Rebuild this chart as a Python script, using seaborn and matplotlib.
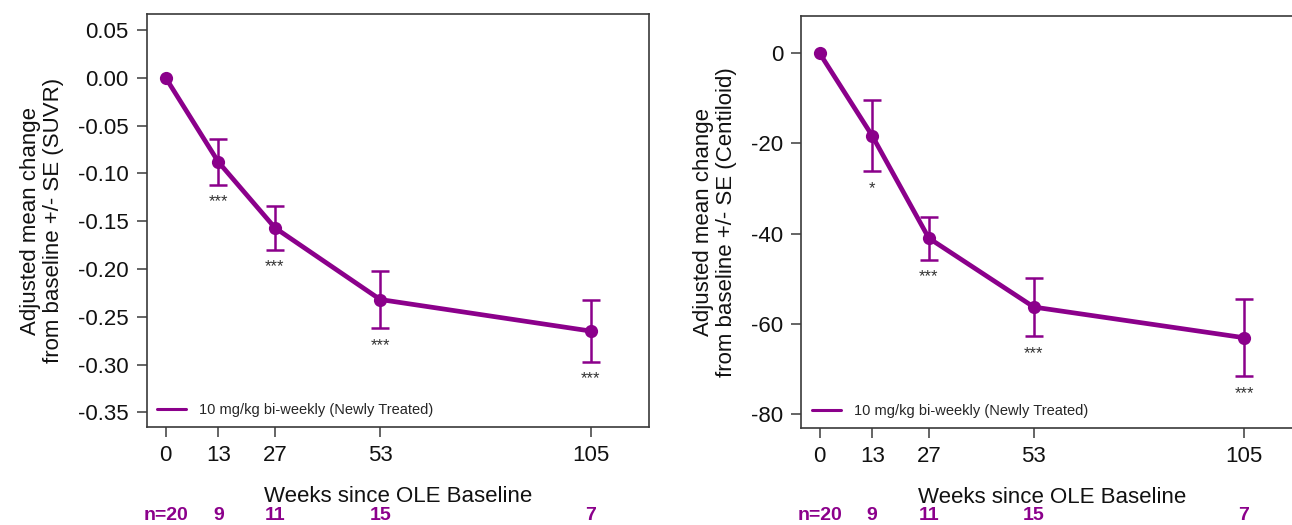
import numpy as np
import pandas as pd
import matplotlib
matplotlib.use("Agg")
import matplotlib.pyplot as plt
from matplotlib.lines import Line2D
from matplotlib.transforms import blended_transform_factory
import seaborn as sns

# ---- data ----
weeks = [0, 13, 27, 53, 105]
week_ticks = [0, 13, 27, 53, 105]
n_labels = ["n=20", "9", "11", "15", "7"]

suvr_mean = [0.0, -0.088, -0.157, -0.232, -0.265]
suvr_se = [0.0, 0.024, 0.023, 0.030, 0.032]
suvr_stars = ["", "***", "***", "***", "***"]
suvr_yticks = [0.05, 0.00, -0.05, -0.10, -0.15, -0.20, -0.25, -0.30, -0.35]

cl_mean = [0.0, -18.3, -41.0, -56.3, -63.1]
cl_se = [0.0, 7.9, 4.75, 6.45, 8.6]
cl_stars = ["", "*", "***", "***", "***"]
cl_yticks = [0, -20, -40, -60, -80]

series_label = "10 mg/kg bi-weekly (Newly Treated)"
xlabel = "Weeks since OLE Baseline"
ylabel_suvr = "Adjusted mean change\nfrom baseline +/- SE (SUVR)"
ylabel_cl = "Adjusted mean change\nfrom baseline +/- SE (Centiloid)"

PURPLE = "#8B008B"
SPINE = "#3a3a3a"

sns.set_theme(style="white")
plt.rcParams["font.family"] = ["Liberation Sans", "DejaVu Sans"]
plt.rcParams["axes.unicode_minus"] = False

W, H = 1292, 525
fig = plt.figure(figsize=(W / 100, H / 100), dpi=100)


def px_axes(left, top, right, bottom):
    return fig.add_axes([left / W, (H - bottom) / H, (right - left) / W, (bottom - top) / H])


def draw_panel(ax, mean, se, stars, yticks, ylim, xlim, ylabel, fmt):
    df = pd.DataFrame({"week": weeks, "value": mean})
    sns.lineplot(data=df, x="week", y="value", ax=ax, color=PURPLE, linewidth=3.4,
                 marker="o", markersize=9.5, markeredgecolor=PURPLE, markeredgewidth=0,
                 errorbar=None, legend=False, zorder=3)
    ax.errorbar(weeks[1:], mean[1:], yerr=se[1:], fmt="none", ecolor=PURPLE,
                elinewidth=1.8, capsize=6.5, capthick=1.8, zorder=2)
    for w, m, s, st in zip(weeks, mean, se, stars):
        if st:
            ax.annotate(st, xy=(w, m - s), xytext=(0, -7), textcoords="offset points",
                        ha="center", va="top", fontsize=12, color="#333333")
    ax.set_xlim(*xlim)
    ax.set_ylim(*ylim)
    ax.set_xticks(week_ticks)
    ax.set_xticklabels([str(t) for t in week_ticks])
    ax.set_yticks(yticks)
    ax.set_yticklabels([fmt.format(t) for t in yticks])
    ax.tick_params(axis="both", direction="out", length=7, width=1.1, color=SPINE,
                   labelsize=16, labelcolor="#111111", pad=6, left=True, bottom=True)
    for sp in ax.spines.values():
        sp.set_visible(True)
        sp.set_color(SPINE)
        sp.set_linewidth(1.2)
    ax.set_xlabel(xlabel, fontsize=16, color="#111111", labelpad=14)
    ax.set_ylabel(ylabel, fontsize=16, color="#111111", labelpad=10, linespacing=1.15)
    ax.grid(False)
    handle = Line2D([0], [0], color=PURPLE, linewidth=2.2)
    ax.legend([handle], [series_label], loc="lower left", frameon=False, fontsize=10.5,
              handlelength=2.0, handletextpad=0.9, borderaxespad=0.3)
    trans = blended_transform_factory(ax.transData, fig.transFigure)
    for w, lab in zip(weeks, n_labels):
        ax.text(w, (H - 516) / H, lab, transform=trans, ha="center", va="center",
                fontsize=14, fontweight="bold", color=PURPLE)


ax1 = px_axes(146.7, 14, 649.3, 427.3)
draw_panel(ax1, suvr_mean, suvr_se, suvr_stars, suvr_yticks, (-0.3657, 0.0667),
           (-4.69, 119.5), ylabel_suvr, "{:.2f}")

ax2 = px_axes(801.3, 16, 801.3 + 124.05 * 4.041, 428.3)
draw_panel(ax2, cl_mean, cl_se, cl_stars, cl_yticks, (-83.2, 8.28),
           (-4.55, 119.5), ylabel_cl, "{:.0f}")

fig.savefig("out.png", dpi=100, facecolor="white")
